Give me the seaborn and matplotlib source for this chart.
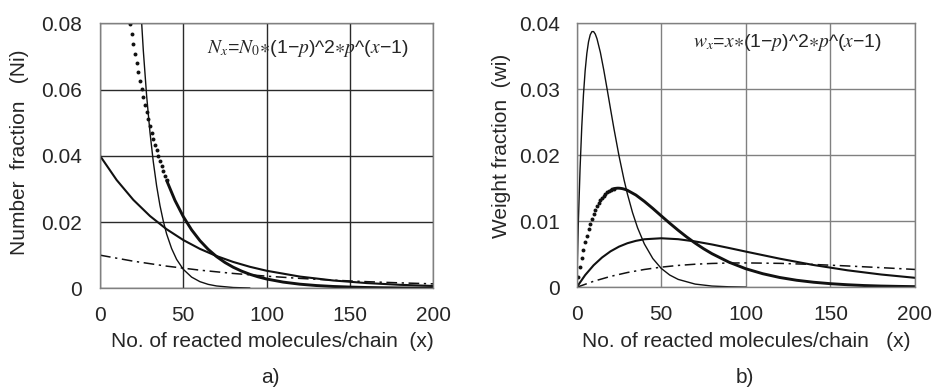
import matplotlib
matplotlib.use("Agg")
import matplotlib.pyplot as plt
import seaborn as sns

# ---------------- data ----------------
# a) number fraction
x_n90 = [20, 22, 24, 26, 28, 30, 32, 34, 36, 38, 40, 43, 46, 50, 55, 60, 65, 70, 80, 90]
n90 = [0.1351, 0.1094, 0.0886, 0.0718, 0.0581, 0.0471, 0.0382, 0.0309, 0.0250, 0.0203,
       0.0164, 0.0120, 0.00873, 0.00573, 0.00338, 0.00200, 0.00118, 0.00070, 0.00024, 0.00008]

x_n98 = [0, 10, 20, 30, 40, 50, 60, 70, 80, 90, 100, 120, 140, 160, 180, 200]
n98 = [0.0400, 0.03268, 0.02670, 0.02182, 0.01783, 0.01457, 0.01190, 0.00973, 0.00795,
       0.00649, 0.00530, 0.00354, 0.00236, 0.00158, 0.00105, 0.00070]

x_n99 = [0, 20, 40, 60, 80, 100, 120, 140, 160, 180, 200]
n99 = [0.0100, 0.00818, 0.00669, 0.00547, 0.00448, 0.00366, 0.00299, 0.00245, 0.00200,
       0.00164, 0.00134]

x_n96_dots = [18, 19, 20, 21, 22, 23, 24, 25, 26, 27, 28, 29, 30, 31, 32, 33, 34, 35, 36,
              37, 38, 39, 40]
n96_dots = [0.07993, 0.07674, 0.07367, 0.07072, 0.06789, 0.06518, 0.06257, 0.06007, 0.05766,
            0.05536, 0.05314, 0.05102, 0.04898, 0.04702, 0.04514, 0.04333, 0.04160, 0.03994,
            0.03834, 0.03680, 0.03533, 0.03392, 0.03256]
x_n96_line = [40, 45, 50, 55, 60, 65, 70, 75, 80, 85, 90, 95, 100, 110, 120, 130, 140, 150,
              160, 170, 180, 190, 200]
n96_line = [0.03256, 0.02655, 0.02165, 0.01765, 0.01439, 0.01174, 0.00957, 0.00780, 0.00636,
            0.00519, 0.00423, 0.00345, 0.00281, 0.00187, 0.00124, 0.00083, 0.00055, 0.00037,
            0.00024, 0.00016, 0.00011, 0.00007, 0.00005]

# b) weight fraction
x_w90 = [0, 1, 2, 3, 4, 5, 6, 7, 8, 9, 10, 11, 12, 14, 16, 18, 20, 22, 25, 28, 30, 33, 36,
         40, 45, 50, 55, 60, 70, 80, 90, 100]
w90 = [0.0, 0.0100, 0.0180, 0.0243, 0.02916, 0.03281, 0.03543, 0.03720, 0.03826, 0.03874,
       0.03874, 0.03836, 0.03766, 0.03559, 0.03294, 0.03002, 0.02702, 0.02407, 0.01994,
       0.01628, 0.01413, 0.01133, 0.00901, 0.00657, 0.00436, 0.00286, 0.00186, 0.00120,
       0.00049, 0.00019, 0.00008, 0.00003]

x_w96_dots = [1, 2, 3, 4, 5, 6, 7, 8, 9, 10, 11, 12, 13, 14, 15, 16, 17, 18, 19, 20, 21, 22]
w96_dots = [0.00160, 0.00307, 0.00442, 0.00566, 0.00680, 0.00783, 0.00877, 0.00962, 0.01039,
            0.01108, 0.01170, 0.01225, 0.01274, 0.01318, 0.01355, 0.01388, 0.01416, 0.01439,
            0.01458, 0.01473, 0.01485, 0.01494]
x_w96_line = [22, 23, 24, 25, 26, 27, 28, 29, 30, 35, 40, 45, 50, 55, 60, 65, 70, 75, 80,
              90, 100, 110, 120, 130, 140, 150, 160, 170, 180, 190, 200]
w96_line = [0.01494, 0.01499, 0.01502, 0.01502, 0.01499, 0.01495, 0.01488, 0.01480, 0.01469,
            0.01398, 0.01302, 0.01195, 0.01082, 0.00971, 0.00864, 0.00763, 0.00670, 0.00585,
            0.00509, 0.00381, 0.00281, 0.00206, 0.00149, 0.00107, 0.00077, 0.00055, 0.00039,
            0.00027, 0.00019, 0.00014, 0.00010]

x_w98 = [0, 5, 10, 15, 20, 25, 30, 35, 40, 50, 60, 70, 80, 90, 100, 120, 140, 160, 180, 200]
w98 = [0.0, 0.00185, 0.00334, 0.00452, 0.00545, 0.00616, 0.00668, 0.00704, 0.00728, 0.00743,
       0.00729, 0.00695, 0.00649, 0.00596, 0.00541, 0.00434, 0.00338, 0.00258, 0.00194,
       0.00144]

x_w99 = [0, 10, 20, 30, 40, 50, 60, 70, 80, 90, 100, 120, 140, 160, 180, 200]
w99 = [0.0, 0.000914, 0.001652, 0.002242, 0.002703, 0.003056, 0.003316, 0.003499, 0.003616,
       0.003679, 0.003697, 0.003629, 0.003463, 0.003237, 0.002979, 0.002707]

x_ticks = [0, 50, 100, 150, 200]
n_ticks = [0, 0.02, 0.04, 0.06, 0.08]
n_tick_labels = ["0", "0.02", "0.04", "0.06", "0.08"]
w_ticks = [0, 0.01, 0.02, 0.03, 0.04]
w_tick_labels = ["0", "0.01", "0.02", "0.03", "0.04"]

# ---------------- style ----------------
sns.set_style("white")
plt.rcParams["font.family"] = ["Liberation Sans", "DejaVu Sans"]
plt.rcParams["mathtext.fontset"] = "stix"

INK = "#111111"
TXT = "#262626"
DASHDOT = (0, (7, 3, 1.5, 3))
FS = 15

fig = plt.figure(figsize=(9.33, 3.9), dpi=100)
ax1 = fig.add_axes([0.1072, 0.2608, 0.3569, 0.6795])
ax2 = fig.add_axes([0.6181, 0.2633, 0.3626, 0.6770])

# panel a
sns.lineplot(x=x_n90, y=n90, ax=ax1, color=INK, lw=1.0)
sns.lineplot(x=x_n98, y=n98, ax=ax1, color=INK, lw=1.5)
sns.lineplot(x=x_n99, y=n99, ax=ax1, color=INK, lw=1.1, linestyle=DASHDOT)
sns.lineplot(x=x_n96_line, y=n96_line, ax=ax1, color=INK, lw=2.1)
sns.scatterplot(x=x_n96_dots, y=n96_dots, ax=ax1, color=INK, s=8, linewidth=0)

# panel b
sns.lineplot(x=x_w90, y=w90, ax=ax2, color=INK, lw=1.0)
sns.lineplot(x=x_w98, y=w98, ax=ax2, color=INK, lw=1.5)
sns.lineplot(x=x_w99, y=w99, ax=ax2, color=INK, lw=1.1, linestyle=DASHDOT)
sns.lineplot(x=x_w96_line, y=w96_line, ax=ax2, color=INK, lw=2.1)
sns.scatterplot(x=x_w96_dots, y=w96_dots, ax=ax2, color=INK, s=8, linewidth=0)

for ax, ylim, yt, ytl, gcol, ypad in [
    (ax1, 0.08, n_ticks, n_tick_labels, "#2a2a2a", 13),
    (ax2, 0.04, w_ticks, w_tick_labels, "#808080", 12),
]:
    ax.set_xlim(0, 200)
    ax.set_ylim(0, ylim)
    ax.set_xticks(x_ticks)
    ax.set_xticklabels([str(v) for v in x_ticks])
    ax.set_yticks(yt)
    ax.set_yticklabels(ytl)
    ax.set_xticks([25, 75, 125, 175], minor=True)
    ax.set_yticks([ylim / 8 * k for k in (1, 3, 5, 7)], minor=True)
    ax.grid(True, which="major", color=gcol, lw=1.0)
    ax.set_axisbelow(True)
    ax.tick_params(which="major", length=0, labelsize=FS, colors=TXT)
    ax.tick_params(axis="y", which="major", pad=ypad)
    ax.tick_params(axis="x", which="major", pad=12.5)
    ax.tick_params(which="minor", direction="in", length=4, width=1, color="#666666")
    for s in ax.spines.values():
        s.set_color("#808080")
        s.set_linewidth(1.0)
    ax.set_xlabel("")
    ax.set_ylabel("")

ax1.text(0.321, 0.905, r"$N_x$=$N_0{\ast}$(1−$p$)^2${\ast}p$^($x$−1)", transform=ax1.transAxes,
         fontsize=14, va="center", ha="left", color=TXT)
ax2.text(0.344, 0.929, r"$w_x$=$x{\ast}$(1−$p$)^2${\ast}p$^($x$−1)", transform=ax2.transAxes,
         fontsize=14, va="center", ha="left", color=TXT)

fig.text(0.2915, 0.1231, "No. of reacted molecules/chain  (x)", ha="center", va="center",
         fontsize=FS, color=TXT)
fig.text(0.7996, 0.1231, "No. of reacted molecules/chain   (x)", ha="center", va="center",
         fontsize=FS, color=TXT)
fig.text(0.0214, 0.610, "Number  fraction   (Ni)", ha="center", va="center", rotation=90,
         fontsize=FS, color=TXT)
fig.text(0.538, 0.625, "Weight fraction  (wi)", ha="center", va="center", rotation=90,
         fontsize=FS, color=TXT)
fig.text(0.2894, 0.033, "a)", ha="center", va="center", fontsize=FS, color=TXT)
fig.text(0.7985, 0.033, "b)", ha="center", va="center", fontsize=FS, color=TXT)

fig.savefig("out.png", dpi=100)
